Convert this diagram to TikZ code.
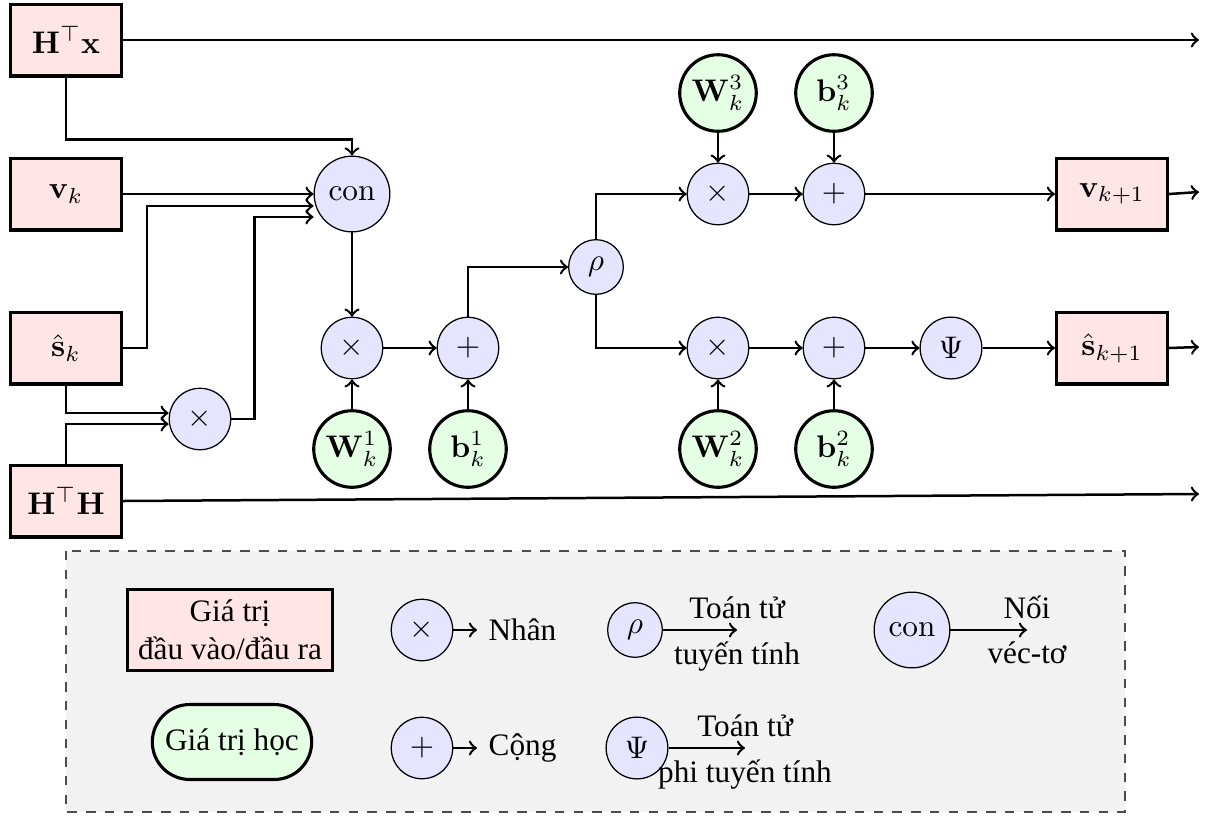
\documentclass[tikz,border=0pt]{standalone}
\usepackage[no-math]{fontspec}
\setmainfont{Liberation Serif}
\usetikzlibrary{calc}

\tikzset{
  io/.style={draw, line width=1pt, fill=red!10, minimum width=35.5pt, minimum height=23pt},
  op/.style={circle, draw, line width=0.4pt, fill=blue!10},
  par/.style={circle, draw, line width=1pt, fill=green!10, inner sep=0pt, minimum size=24.5pt},
  conn/.style={->, thick},
  legendframe/.style={draw=black!70, dashed, fill=gray!10},
}

\begin{document}
\begin{tikzpicture}[x=0.32pt, y=-0.32pt]
\useasboundingbox (0,0) rectangle (1216,820);

% inputs
\node[io] (hx) at (66,40)  {$\mathbf{H}^\top\mathbf{x}$};
\node[io] (vk) at (66,194) {$\mathbf{v}_k$};
\node[io] (sk) at (66,348) {$\hat{\mathbf{s}}_k$};
\node[io] (hh) at (66,501) {$\mathbf{H}^\top\mathbf{H}$};

% concatenation and first layer
\node[op] (con) at (352,194) {$\mathrm{con}$};
\node[op] (m0) at (200,419) {$\times$};
\node[op] (m1) at (352,348) {$\times$};
\node[op] (a1) at (468,348) {$+$};
\node[par] (w1) at (352,449) {$\mathbf{W}_k^1$};
\node[par] (b1) at (468,449) {$\mathbf{b}_k^1$};
\node[op] (rho) at (596,267) {$\rho$};

% upper branch
\node[par] (w3) at (718,93) {$\mathbf{W}_k^3$};
\node[par] (b3) at (834,93) {$\mathbf{b}_k^3$};
\node[op] (m3) at (718,194) {$\times$};
\node[op] (a3) at (834,194) {$+$};

% lower branch
\node[op] (m2) at (718,348) {$\times$};
\node[op] (a2) at (834,348) {$+$};
\node[op] (psi) at (951,348) {$\Psi$};
\node[par] (w2) at (718,449) {$\mathbf{W}_k^2$};
\node[par] (b2) at (834,449) {$\mathbf{b}_k^2$};

% outputs
\node[io] (vn) at (1112,194) {$\mathbf{v}_{k+1}$};
\node[io] (sn) at (1112,348) {$\hat{\mathbf{s}}_{k+1}$};
\coordinate (hxend) at (1199,40);
\coordinate (vnend) at (1199,192);
\coordinate (snend) at (1199,347);
\coordinate (hhend) at (1199,494);

% connections
\draw[conn] (hx.east) -- (hxend);
\draw[conn] (hh.east) -- (hhend);
\draw[conn] (hx.south) -- ++(0,62) -| (con.north);
\draw[conn] (vk.east) -- (con.west);
\draw[conn] (sk.east) -- ++(24,0) |- ($(con.west)+(0,12)$);
\draw[conn] (m0.east) -- ++(23,0) |- ($(con.west)+(0,23)$);
\draw[conn] (sk.south) |- ($(m0.west)+(0,-6)$);
\draw[conn] (hh.north) |- ($(m0.west)+(0,5)$);
\draw[conn] (con) -- (m1);
\draw[conn] (m1) -- (a1);
\draw[conn] (w1) -- (m1);
\draw[conn] (b1) -- (a1);
\draw[conn] (a1.north) |- (rho.west);
\draw[conn] (rho.north) |- (m3.west);
\draw[conn] (rho.south) |- (m2.west);
\draw[conn] (w3) -- (m3);
\draw[conn] (b3) -- (a3);
\draw[conn] (m3) -- (a3);
\draw[conn] (a3) -- (vn);
\draw[conn] (w2) -- (m2);
\draw[conn] (b2) -- (a2);
\draw[conn] (m2) -- (a2);
\draw[conn] (a2) -- (psi);
\draw[conn] (psi) -- (sn);
\draw[conn] (vn.east) -- (vnend);
\draw[conn] (sn.east) -- (snend);

% legend
\draw[legendframe] (66,551) rectangle (1125,812);
\node[io, align=center] (lio) at (230,630) {Giá trị\\đầu vào/đầu ra};
\node[par, rectangle, rounded corners=12pt, inner sep=3.33pt, minimum width=51pt, minimum height=24pt] (lpar) at (232,742) {Giá trị học};

\node[op] (lmul) at (422,630) {$\times$};
\coordinate (lmulend) at (477,630);
\draw[conn] (lmul) -- (lmulend) node[right] {Nhân};

\node[op] (ladd) at (422,748) {$+$};
\coordinate (laddend) at (477,748);
\draw[conn] (ladd) -- (laddend) node[right] {Cộng};

\node[op] (lrho) at (635,630) {$\rho$};
\coordinate (lrhoend) at (737,630);
\draw[conn] (lrho) -- (lrhoend) node[above] {Toán tử} node[below] {tuyến tính};

\node[op] (lpsi) at (637,748) {$\Psi$};
\coordinate (lpsiend) at (745,748);
\draw[conn] (lpsi) -- (lpsiend) node[above] {Toán tử} node[below] {phi tuyến tính};

\node[op] (lcon) at (912,630) {$\mathrm{con}$};
\coordinate (lconend) at (1027,630);
\draw[conn] (lcon) -- (lconend) node[above] {Nối} node[below] {véc-tơ};
\end{tikzpicture}
\end{document}
